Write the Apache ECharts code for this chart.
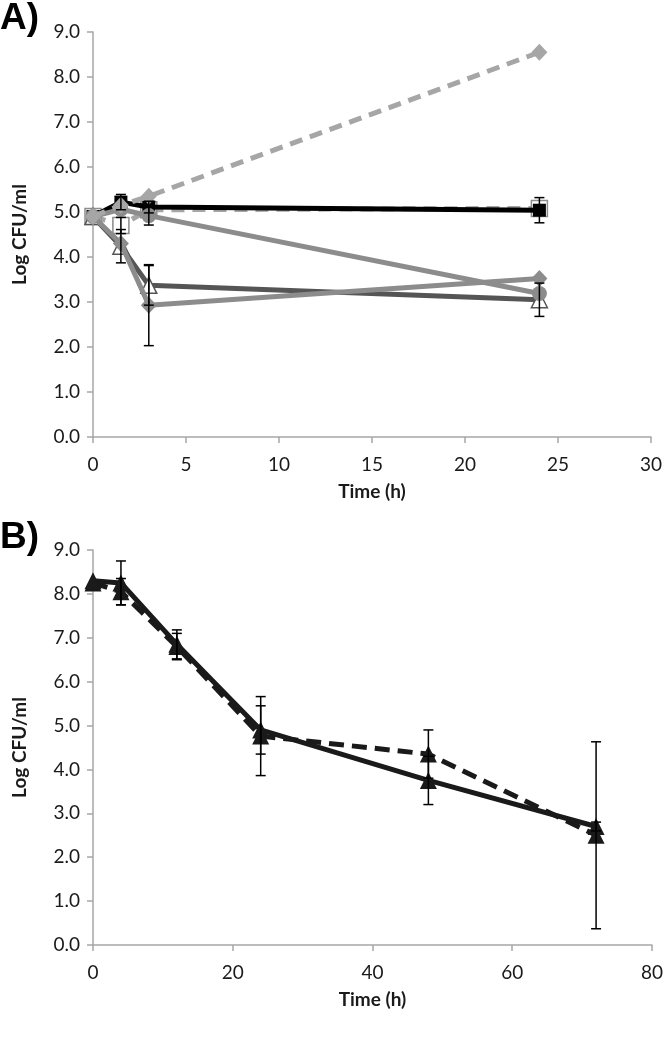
<!DOCTYPE html>
<html>
<head>
<meta charset="utf-8">
<script src="https://cdn.jsdelivr.net/npm/echarts@6/dist/echarts.min.js"></script>
<style>
html,body{margin:0;padding:0;background:#fff;}
#chart{width:666px;height:1037px;}
</style>
</head>
<body>
<div id="chart"></div>
<script>
// ---------- Panel A data ----------
const timeA = [0, 1.5, 3, 24];
const aDashDiamond = [4.9, 5.15, 5.35, 8.55];
const aBlackSquare = [4.9, 5.22, 5.11, 5.04];
const aOpenSquare  = [4.9, 4.70, 5.05, 5.08];
const aCircle      = [4.9, 5.06, 4.92, 3.19];
const aTriangle    = [4.9, 4.24, 3.37, 3.05];
const aDiamond     = [4.9, 4.30, 2.93, 3.52];
const errBlackSquare = [0, 0.17, 0.13, 0.28];
const errOpenSquare  = [0, 0.18, 0, 0];
const errCircle      = [0, 0, 0.21, 0];
const errTriangle    = [0, 0.37, 0.44, 0.37];
const errDiamond     = [0, 0, 0.90, 0];
const yTicks = [0,1,2,3,4,5,6,7,8,9];

// ---------- Panel B data ----------
const timeB = [0, 4, 12, 24, 48, 72];
const bSolid  = [8.30, 8.25, 6.85, 4.90, 3.75, 2.70];
const bDashed = [8.25, 8.05, 6.80, 4.76, 4.35, 2.50];
const errSolidB  = [0, 0.50, 0.33, 0.55, 0.55, 0.10];
const errDashedB = [0, 0.30, 0.30, 0.90, 0.55, 2.13];

const AXIS_GREY = '#a6a6a6';
const FONT = 'Lato, "Open Sans", sans-serif';

function pairs(xs, ys){ return xs.map((x,i)=>[x, ys[i]]); }
function errData(xs, ys, es){
  const out = [];
  xs.forEach((x,i)=>{ if (es[i] > 0) out.push([x, ys[i]-es[i], ys[i]+es[i]]); });
  return out;
}
function errRender(params, api){
  const x = api.value(0), lo = api.value(1), hi = api.value(2);
  const p1 = api.coord([x, hi]), p2 = api.coord([x, lo]);
  const w = 5;
  const st = {stroke:'#000', lineWidth:1.5};
  return {type:'group', children:[
    {type:'line', shape:{x1:p1[0], y1:p1[1], x2:p2[0], y2:p2[1]}, style:st},
    {type:'line', shape:{x1:p1[0]-w, y1:p1[1], x2:p1[0]+w, y2:p1[1]}, style:st},
    {type:'line', shape:{x1:p2[0]-w, y1:p2[1], x2:p2[0]+w, y2:p2[1]}, style:st}
  ]};
}
function errSeries(data, gi){
  return {type:'custom', xAxisIndex:gi, yAxisIndex:gi, data:data, renderItem:errRender,
          encode:{x:0, y:[1,2]}, z:10, silent:true, clip:false};
}
function lineSeries(gi, data, o){
  return Object.assign({type:'line', xAxisIndex:gi, yAxisIndex:gi, data:data,
    showAllSymbol:true, animation:false, silent:true}, o);
}

function xAxisCfg(gi, max, interval){
  return {gridIndex:gi, type:'value', min:0, max:max, interval:interval,
    name:'Time (h)', nameLocation:'middle', nameGap:45,
    nameTextStyle:{fontFamily:FONT, fontWeight:'bold', fontSize:19, color:'#1a1a1a'},
    axisLine:{show:true, onZero:false, lineStyle:{color:AXIS_GREY, width:1.5}},
    axisTick:{show:true, inside:false, length:6, lineStyle:{color:AXIS_GREY, width:1.5}},
    axisLabel:{margin:18, fontFamily:FONT, fontSize:19, color:'#1a1a1a'},
    splitLine:{show:false}};
}
function yAxisCfg(gi){
  return {gridIndex:gi, type:'value', min:0, max:9, interval:1,
    name:'Log CFU/ml', nameLocation:'middle', nameGap:64, nameRotate:90,
    nameTextStyle:{fontFamily:FONT, fontWeight:'bold', fontSize:19, color:'#1a1a1a'},
    axisLine:{show:true, lineStyle:{color:AXIS_GREY, width:1.5}},
    axisTick:{show:true, inside:false, length:6, lineStyle:{color:AXIS_GREY, width:1.5}},
    axisLabel:{margin:13, fontFamily:FONT, fontSize:19, color:'#1a1a1a',
      formatter:v=>yTicks.includes(v) ? v.toFixed(1) : ''},
    splitLine:{show:false}};
}

const chart = echarts.init(document.getElementById('chart'), null, {renderer:'canvas'});
chart.setOption({
  animation:false,
  backgroundColor:'#fff',
  grid:[
    {left:93, top:32, width:558, height:405},
    {left:93, top:550, width:565, height:395}
  ],
  xAxis:[xAxisCfg(0, 30, 5), xAxisCfg(1, 80, 20)],
  yAxis:[yAxisCfg(0), yAxisCfg(1)],
  graphic:[
    {type:'text', left:0, top:0, style:{text:'A)', fontFamily:'Liberation Sans, Arial, sans-serif', fontWeight:'bold', fontSize:37, fill:'#000'}},
    {type:'text', left:0, top:519, style:{text:'B)', fontFamily:'Liberation Sans, Arial, sans-serif', fontWeight:'bold', fontSize:37, fill:'#000'}}
  ],
  series:[
    // Panel A
    lineSeries(0, pairs(timeA, aOpenSquare), {
      symbol:'rect', symbolSize:16, z:2,
      lineStyle:{color:'#a6a6a6', width:5, type:[13,8]},
      itemStyle:{color:'#fff', borderColor:'#8c8c8c', borderWidth:1.5}}),
    lineSeries(0, pairs(timeA, aBlackSquare), {
      symbol:'rect', symbolSize:13, z:3,
      lineStyle:{color:'#000', width:5},
      itemStyle:{color:'#000'}}),
    lineSeries(0, pairs(timeA, aTriangle), {
      symbol:'triangle', symbolSize:16, z:3,
      lineStyle:{color:'#555555', width:5},
      itemStyle:{color:'#fff', borderColor:'#555555', borderWidth:1.5}}),
    lineSeries(0, pairs(timeA, aDiamond), {
      symbol:'diamond', symbolSize:[16,17], z:4,
      lineStyle:{color:'#8c8c8c', width:5},
      itemStyle:{color:'#8c8c8c'}}),
    lineSeries(0, pairs(timeA, aCircle), {
      symbol:'circle', symbolSize:15, z:4,
      lineStyle:{color:'#8c8c8c', width:5},
      itemStyle:{color:'#8c8c8c'}}),
    lineSeries(0, pairs(timeA, aDashDiamond), {
      symbol:'diamond', symbolSize:[16,17], z:5,
      lineStyle:{color:'#a6a6a6', width:5, type:[13,8]},
      itemStyle:{color:'#a6a6a6'}}),
    errSeries(errData(timeA, aBlackSquare, errBlackSquare), 0),
    errSeries(errData(timeA, aOpenSquare, errOpenSquare), 0),
    errSeries(errData(timeA, aCircle, errCircle), 0),
    errSeries(errData(timeA, aTriangle, errTriangle), 0),
    errSeries(errData(timeA, aDiamond, errDiamond), 0),
    // Panel B
    lineSeries(1, pairs(timeB, bDashed), {
      symbol:'triangle', symbolSize:17, z:3,
      lineStyle:{color:'#1a1a1a', width:5, type:[15,8]},
      itemStyle:{color:'#1a1a1a'}}),
    lineSeries(1, pairs(timeB, bSolid), {
      symbol:'triangle', symbolSize:17, z:4,
      lineStyle:{color:'#1a1a1a', width:5},
      itemStyle:{color:'#1a1a1a'}}),
    errSeries(errData(timeB, bSolid, errSolidB), 1),
    errSeries(errData(timeB, bDashed, errDashedB), 1)
  ]
});
</script>
</body>
</html>
